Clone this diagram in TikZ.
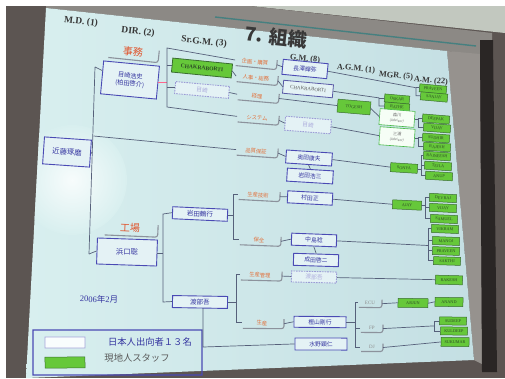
\documentclass[tikz,border=0pt]{standalone}
\usepackage{fontspec}
\setmainfont{Liberation Serif}
\newfontfamily\cjk{Noto Sans CJK JP}
\usetikzlibrary{calc}
\definecolor{slideL}{HTML}{D8EFEF}
\definecolor{slideR}{HTML}{C4DFE3}
\definecolor{bluecol}{HTML}{4A4AB4}
\definecolor{bluetext}{HTML}{3535A0}
\definecolor{boxfill}{HTML}{E4F2F5}
\definecolor{lncol}{HTML}{56607A}
\definecolor{grn}{HTML}{66C83A}
\definecolor{grnd}{HTML}{3A6E30}
\definecolor{grntext}{HTML}{2C4A26}
\definecolor{orng}{HTML}{E2703A}
\definecolor{orngbig}{HTML}{E0542C}
\definecolor{tabgray}{HTML}{8C929C}
\definecolor{hdrc}{HTML}{383838}
\definecolor{photodark}{HTML}{5C5552}
\definecolor{ceil}{HTML}{C2C8BF}
\definecolor{housing}{HTML}{8C8985}
\definecolor{screengray}{HTML}{96928E}
\definecolor{darkband}{HTML}{2A2625}
\tikzset{
 ln/.style={draw=lncol, line width=0.7pt},
 jb/.style={draw=bluecol, line width=0.9pt, fill=boxfill, text=bluetext, inner sep=0.5pt, align=center, font=\cjk\fontsize{5.8}{6.5}\selectfont},
 jd/.style={jb, draw=bluecol!55, dash pattern=on 1.6pt off 1pt, text=bluecol!45},
 gbox/.style={draw=grnd, line width=0.5pt, fill=grn, text=grntext, inner sep=0.3pt, font=\fontsize{4.2}{4.5}\selectfont},
 graybox/.style={draw=gray!70!blue, line width=0.8pt, fill=boxfill, text=black!65, inner sep=0.3pt, font=\fontsize{5}{5.5}\selectfont},
 advbox/.style={draw=green!45!gray, line width=0.6pt, fill=boxfill!60!green!8, text=black!55, inner sep=0.3pt, align=center, font=\cjk\fontsize{4.3}{5}\selectfont},
 hdr/.style={text=hdrc, inner sep=0pt, font=\bfseries\fontsize{9.5}{10}\selectfont},
 hdrs/.style={text=hdrc, inner sep=0pt, font=\bfseries\fontsize{8.3}{9}\selectfont},
 tsm/.style={text=orng, inner sep=0pt, font=\cjk\fontsize{5.3}{6}\selectfont},
 tbig/.style={text=orngbig, inner sep=0pt, font=\cjk\fontsize{10}{11}\selectfont},
 tgr/.style={text=gray!90, inner sep=0pt, font=\fontsize{5}{6}\selectfont},
 tabline/.style={draw=tabgray, line width=1.1pt, rounded corners=2.5pt},
}
\newcommand\mkbox[7]{\node[#4,minimum width=#5pt,minimum height=#6pt,rotate={0.02*(#3)-7}] (#1) at (#2,#3) {#7};}
\newcommand\mktab[9]{\begin{scope}[shift={(#2,#3)},rotate={0.02*(#3)-7}]
\node[#5,transform shape] (#1) at (0,0) {#4};
\draw[tabline] (#6,#8) -- (#7,#8) -- (#7,#9);
\coordinate (#1L) at (#6-1,0);
\coordinate (#1R) at (#7,0.5);
\end{scope}}
\begin{document}
\begin{tikzpicture}[x=1pt,y=-1pt]
\useasboundingbox (0,0) rectangle (505,378);
% photo surroundings
\fill[white] (0,0) rectangle (505,378);
\fill[photodark] (6,6) rectangle (505,378);
\fill[ceil] (250,6) -- (505,6) -- (505,33) -- cycle;
\fill[housing] (46,6) -- (250,6) -- (492,33) -- (492,58) -- (447,51) -- (46,8) -- cycle;
\draw[teal!45!gray, line width=1.4pt] (215,17) -- (476,46);
\fill[screengray] (447,51) -- (480,54) -- (482,364) -- (474,360) -- cycle;
\fill[darkband] (480,40) -- (493,40) -- (497,372) -- (482,372) -- cycle;
\begin{scope}
\clip (46,8) -- (447,51) -- (474,360) -- (26,378) -- cycle;
\shade[left color=slideL, right color=slideR] (26,8) rectangle (474,378);
\shade[inner color=white!80!slideL, outer color=slideL] (72,180) circle (55);
\end{scope}
% headers
\mkbox{hMD}{81}{22}{hdr}{0}{0}{M.D. (1)}
\mkbox{hDIR}{138}{32}{hdr}{0}{0}{DIR. (2)}
\mkbox{hSGM}{204}{42}{hdr}{0}{0}{Sr.G.M. (3)}
\mkbox{title}{276}{37}{text=hdrc,inner sep=0pt,font=\cjk\bfseries\fontsize{19}{20}\selectfont}{0}{0}{7. 組織}
\mkbox{hGM}{305}{59}{hdrs}{0}{0}{G.M. (8)}
\mkbox{hAGM}{356}{69}{hdrs}{0}{0}{A.G.M. (1)}
\mkbox{hMGR}{396}{76}{hdrs}{0}{0}{MGR. (5)}
\mkbox{hAM}{431}{81}{hdrs}{0}{0}{A.M. (22)}
% tabs
\mktab{jimu}{133}{52}{事務}{tbig}{-24}{26}{8}{-4}
\mktab{kojo}{130}{228}{工場}{tbig}{-25}{28}{8}{-4}
\mktab{kikaku}{255}{62}{企画・購買}{tsm}{-19}{22}{5.5}{-4}
\mktab{jinji}{256}{78}{人事・総務}{tsm}{-19}{22}{5.5}{-4}
\mktab{keiri}{257}{96}{経理}{tsm}{-19}{22}{5.5}{-4}
\mktab{system}{257}{118}{システム}{tsm}{-19}{22}{5.5}{-4}
\mktab{qa}{256}{151}{品質保証}{tsm}{-19}{22}{5.5}{-4}
\mktab{seigi}{258}{195}{生産技術}{tsm}{-19}{22}{5.5}{-4}
\mktab{hozen}{259}{240}{保全}{tsm}{-19}{22}{5.5}{-4}
\mktab{kanri}{260}{275}{生産管理}{tsm}{-19}{22}{5.5}{-4}
\mktab{seisan}{262}{323}{生産}{tsm}{-19}{22}{5.5}{-4}
\mktab{ecu}{370}{303}{ECU}{tgr}{-11}{12}{4.5}{-3.5}
\mktab{fp}{372}{328}{FP}{tgr}{-11}{11}{4.5}{-3.5}
\mktab{dj}{372}{347}{DJ}{tgr}{-11}{11}{4.5}{-3.5}
% Japanese staff boxes
\mkbox{dir}{130}{80}{jb,font=\cjk\fontsize{6.2}{8}\selectfont}{56}{33}{目崎浩史\\(柏田啓介)}
\mkbox{md}{67}{152}{jb,font=\cjk\fontsize{7.3}{8}\selectfont}{47}{27}{近藤琢磨}
\mkbox{hama}{127}{252}{jb,font=\cjk\fontsize{7.3}{8}\selectfont}{60}{26}{浜口聡}
\mkbox{iwat}{200}{214}{jb,font=\cjk\fontsize{6.5}{7}\selectfont}{55}{12}{岩田鶴行}
\mkbox{watb}{200}{302}{jb,font=\cjk\fontsize{6.5}{7}\selectfont}{55}{12}{渡部吾}
\mkbox{naga}{305}{69}{jb}{45}{15}{長澤輝弥}
\mkbox{okuda}{309}{158}{jb}{46}{13}{奥田康夫}
\mkbox{iwa3}{310}{176}{jb}{46}{13}{岩田浩三}
\mkbox{murata}{310}{198}{jb}{45}{12}{村田正}
\mkbox{naka}{314}{240}{jb}{45}{12}{中島稔}
\mkbox{narita}{316}{260}{jb}{45}{12}{成田啓二}
\mkbox{kashi}{320}{322}{jb}{52}{11}{樫山剛行}
\mkbox{mizu}{321}{344}{jb}{52}{12}{水野顕仁}
\mkbox{meza}{202}{90}{jd}{54}{12}{目崎}
\mkbox{mezg}{308}{125}{jd}{46}{14}{目崎}
\mkbox{watg}{314}{277}{jd}{45}{11}{渡部吾}
\mkbox{chakg}{308}{89}{graybox}{50}{13}{CHAKRABORTI}
% local staff boxes
\mkbox{chaks}{202}{68}{gbox,line width=0.8pt,font=\bfseries\fontsize{5.6}{6}\selectfont}{60}{14}{CHAKRABORTI}
\mkbox{togesh}{354}{107}{gbox}{33}{13}{TOGESH}
\mkbox{oskar}{397}{99}{gbox}{25}{8}{OSKAR}
\mkbox{rathe}{397}{107}{gbox}{25}{8}{RATHE}
\mkbox{adv1}{397}{118}{advbox}{35}{16}{森川\\{\fontsize{3.4}{4}\selectfont(Advisor)}}
\mkbox{adv2}{397}{137}{advbox}{35}{18}{三浦\\{\fontsize{3.4}{4}\selectfont(Advisor)}}
\mkbox{sonya}{404}{168}{gbox}{27}{9}{SONYA}
\mkbox{ajay}{407}{205}{gbox}{29}{9}{AJAY}
\mkbox{arjun}{413}{303}{gbox}{30}{9}{ARJUN}
\mkbox{am1}{433}{89}{gbox}{27}{8}{PRAVEEN}
\mkbox{am2}{434}{97}{gbox}{27}{8}{SANJAY}
\mkbox{am3}{436}{119}{gbox}{27}{8}{DEEPAK}
\mkbox{am4}{437}{128}{gbox}{27}{8}{VIJAY}
\mkbox{am5}{436}{138}{gbox}{27}{8}{SUDHIR}
\mkbox{am6}{437}{147}{gbox}{27}{8}{RAJESH}
\mkbox{am7}{437}{156}{gbox}{27}{8}{RAJNEESH}
\mkbox{am8}{438}{166}{gbox}{27}{8}{TEJLA}
\mkbox{am9}{439}{176}{gbox}{27}{8}{ANUP}
\mkbox{am10}{443}{198}{gbox}{27}{8}{DEVRAJ}
\mkbox{am11}{443}{208}{gbox}{27}{8}{VIJAY}
\mkbox{am12}{444}{219}{gbox}{27}{8}{SAMUEL}
\mkbox{am13}{445}{229}{gbox}{27}{8}{VIKRAM}
\mkbox{am14}{446}{241}{gbox}{27}{8}{MANOJ}
\mkbox{am15}{446}{251}{gbox}{27}{8}{PRAVEEN}
\mkbox{am16}{447}{261}{gbox}{27}{8}{SAKTHI}
\mkbox{am17}{449}{280}{gbox}{27}{9}{RAKESH}
\mkbox{am18}{449}{302}{gbox}{28}{9}{ANAND}
\mkbox{am19}{453}{321}{gbox}{27}{8}{SUDEEP}
\mkbox{am20}{454}{331}{gbox}{27}{8}{KULDEEP}
\mkbox{am21}{455}{342}{gbox}{28}{9}{SUKUMAR}
% date and legend
\mkbox{date}{99}{299}{text=bluetext,inner sep=0pt,font=\fontsize{8.5}{9}\selectfont}{0}{0}{2006{\cjk 年}2{\cjk 月}}
\mkbox{leg}{117.5}{352.5}{draw=bluecol,line width=1.3pt}{169}{45}{}
\mkbox{legw}{65}{342.5}{draw=bluecol!50,line width=0.7pt,fill=white!85!slideL}{40}{11}{}
\mkbox{legg}{65}{362.5}{draw=grnd,line width=0.5pt,fill=grn}{40}{11}{}
\mkbox{legt1}{150}{342}{text=bluetext,inner sep=0pt,font=\cjk\fontsize{9.3}{10}\selectfont}{0}{0}{日本人出向者１３名}
\mkbox{legt2}{137}{358}{text=black!65,inner sep=0pt,font=\cjk\fontsize{9.3}{10}\selectfont}{0}{0}{現地人スタッフ}
% coordinates
\coordinate (T1) at (95,67);
\coordinate (T2) at (89,254);
\coordinate (Tm) at (92.3,152);
\coordinate (Tq) at (93.5,136);
\coordinate (B1t) at (167,48);
\coordinate (B1b) at (167,107);
\coordinate (H1) at (163,214);
\coordinate (H2) at (163,302);
\coordinate (W1) at (203,308);
\coordinate (W2) at (203,347);
\coordinate (bi) at (233,0);
\coordinate (bw) at (236,0);
\coordinate (bp) at (416,0);
\coordinate (bo) at (379,0);
\coordinate (bd) at (418,0);
\coordinate (bn) at (421,0);
\coordinate (ba) at (425,0);
\coordinate (bv) at (428,0);
\coordinate (be) at (355,0);
\coordinate (bf) at (434,0);
% trunk (M.D.)
\draw[ln] (T1) -- (T2);
\draw[ln] (T1) -- ($(dir.north west)!0.3!(dir.south west)$);
\draw[ln] (md.east) -- (Tm);
\draw[ln] (T2) -- (hama.west);
\draw[ln] (Tq) -- (qaL);
% Sr.G.M. bracket
\draw[red!75!magenta!60, line width=0.8pt] (dir.east) -- (dir.east -| B1t);
\draw[ln] (kikakuL) -- (B1t) -- (B1b) -- (systemL);
\draw[ln] (chaks.west) -- (chaks.west -| B1t);
\draw[ln] (meza.west) -- (meza.west -| B1t);
\draw[ln] (chaks.east) -- (jinjiL);
\draw[ln] (meza.east) -- (keiriL);
% factory side
\draw[ln] (hama.east) -- (hama.east -| H1);
\draw[ln] (iwat.west) -- (H1) -- (H2) -- (watb.west);
\draw[ln] (iwat.east) -- (iwat.east -| bi);
\draw[ln] (seigiL) -- (seigiL -| bi) -- (hozenL -| bi) -- (hozenL);
\draw[ln] (watb.east) -- (watb.east -| bw);
\draw[ln] (kanriL) -- (kanriL -| bw) -- (seisanL -| bw) -- (seisanL);
\draw[ln] (W1) -- (W2) -- (mizu.west);
% G.M. level
\draw[ln] (kikakuR) -- (naga.west);
\draw[ln] (jinjiR) -- (chakg.west);
\draw[ln] (keiriR) -- (togesh.west);
\draw[ln] (systemR) -- (mezg.west);
\draw[ln] (qaR) -- (okuda.west);
\draw[ln] (okuda.south) -- (iwa3.north);
\draw[ln] (seigiR) -- (murata.west);
\draw[ln] (hozenR) -- (naka.west);
\draw[ln] (naka.south) -- (narita.north);
\draw[ln] (kanriR) -- (watg.west);
\draw[ln] (seisanR) -- (kashi.west);
% right side
\draw[ln] (naga.east) -- (am1.west -| bp) -- (am2.west -| bp) -- (am2.west);
\draw[ln] (am1.west -| bp) -- (am1.west);
\draw[ln] (chakg.east) -- (oskar.west -| bo) -- (rathe.west -| bo) -- (rathe.west);
\draw[ln] (oskar.west -| bo) -- (oskar.west);
\draw[ln] (togesh.east) -- (adv1.west);
\draw[ln] (mezg.east) -- (adv2.west);
\draw[ln] (adv1.east) -- (adv1.east -| bd);
\draw[ln] (am3.west) -- (am3.west -| bd) -- (am4.west -| bd) -- (am4.west);
\draw[ln] (adv2.east) -- (adv2.east -| bd);
\draw[ln] (am5.west) -- (am5.west -| bd) -- (am6.west -| bd) -- (am6.west);
\draw[ln] (okuda.east) -- (sonya.west);
\draw[ln] (sonya.east) -- (sonya.east -| bn);
\draw[ln] (am7.west) -- (am7.west -| bn) -- (am9.west -| bn) -- (am9.west);
\draw[ln] (am8.west) -- (am8.west -| bn);
\draw[ln] (murata.east) -- (ajay.west);
\draw[ln] (ajay.east) -- (ajay.east -| ba);
\draw[ln] (am10.west) -- (am10.west -| ba) -- (am12.west -| ba) -- (am12.west);
\draw[ln] (am11.west) -- (am11.west -| ba);
\draw[ln] (naka.east) -- ($(am14.west -| bv)!0.5!(am15.west -| bv)$);
\draw[ln] (am13.west) -- (am13.west -| bv) -- (am16.west -| bv) -- (am16.west);
\draw[ln] (am14.west) -- (am14.west -| bv);
\draw[ln] (am15.west) -- (am15.west -| bv);
\draw[ln] (watg.east) -- (am17.west);
\draw[ln] (kashi.east) -- (kashi.east -| be);
\draw[ln] (ecuL) -- (ecuL -| be) -- (djL -| be) -- (djL);
\draw[ln] (fpL) -- (fpL -| be);
\draw[ln] (ecuR) -- (arjun.west);
\draw[ln] (arjun.east) -- (am18.west);
\draw[ln] (fpR) -- ($(am19.west -| bf)!0.5!(am20.west -| bf)$);
\draw[ln] (am19.west) -- (am19.west -| bf) -- (am20.west -| bf) -- (am20.west);
\draw[ln] (djR) -- (am21.west);
\end{tikzpicture}
\end{document}
